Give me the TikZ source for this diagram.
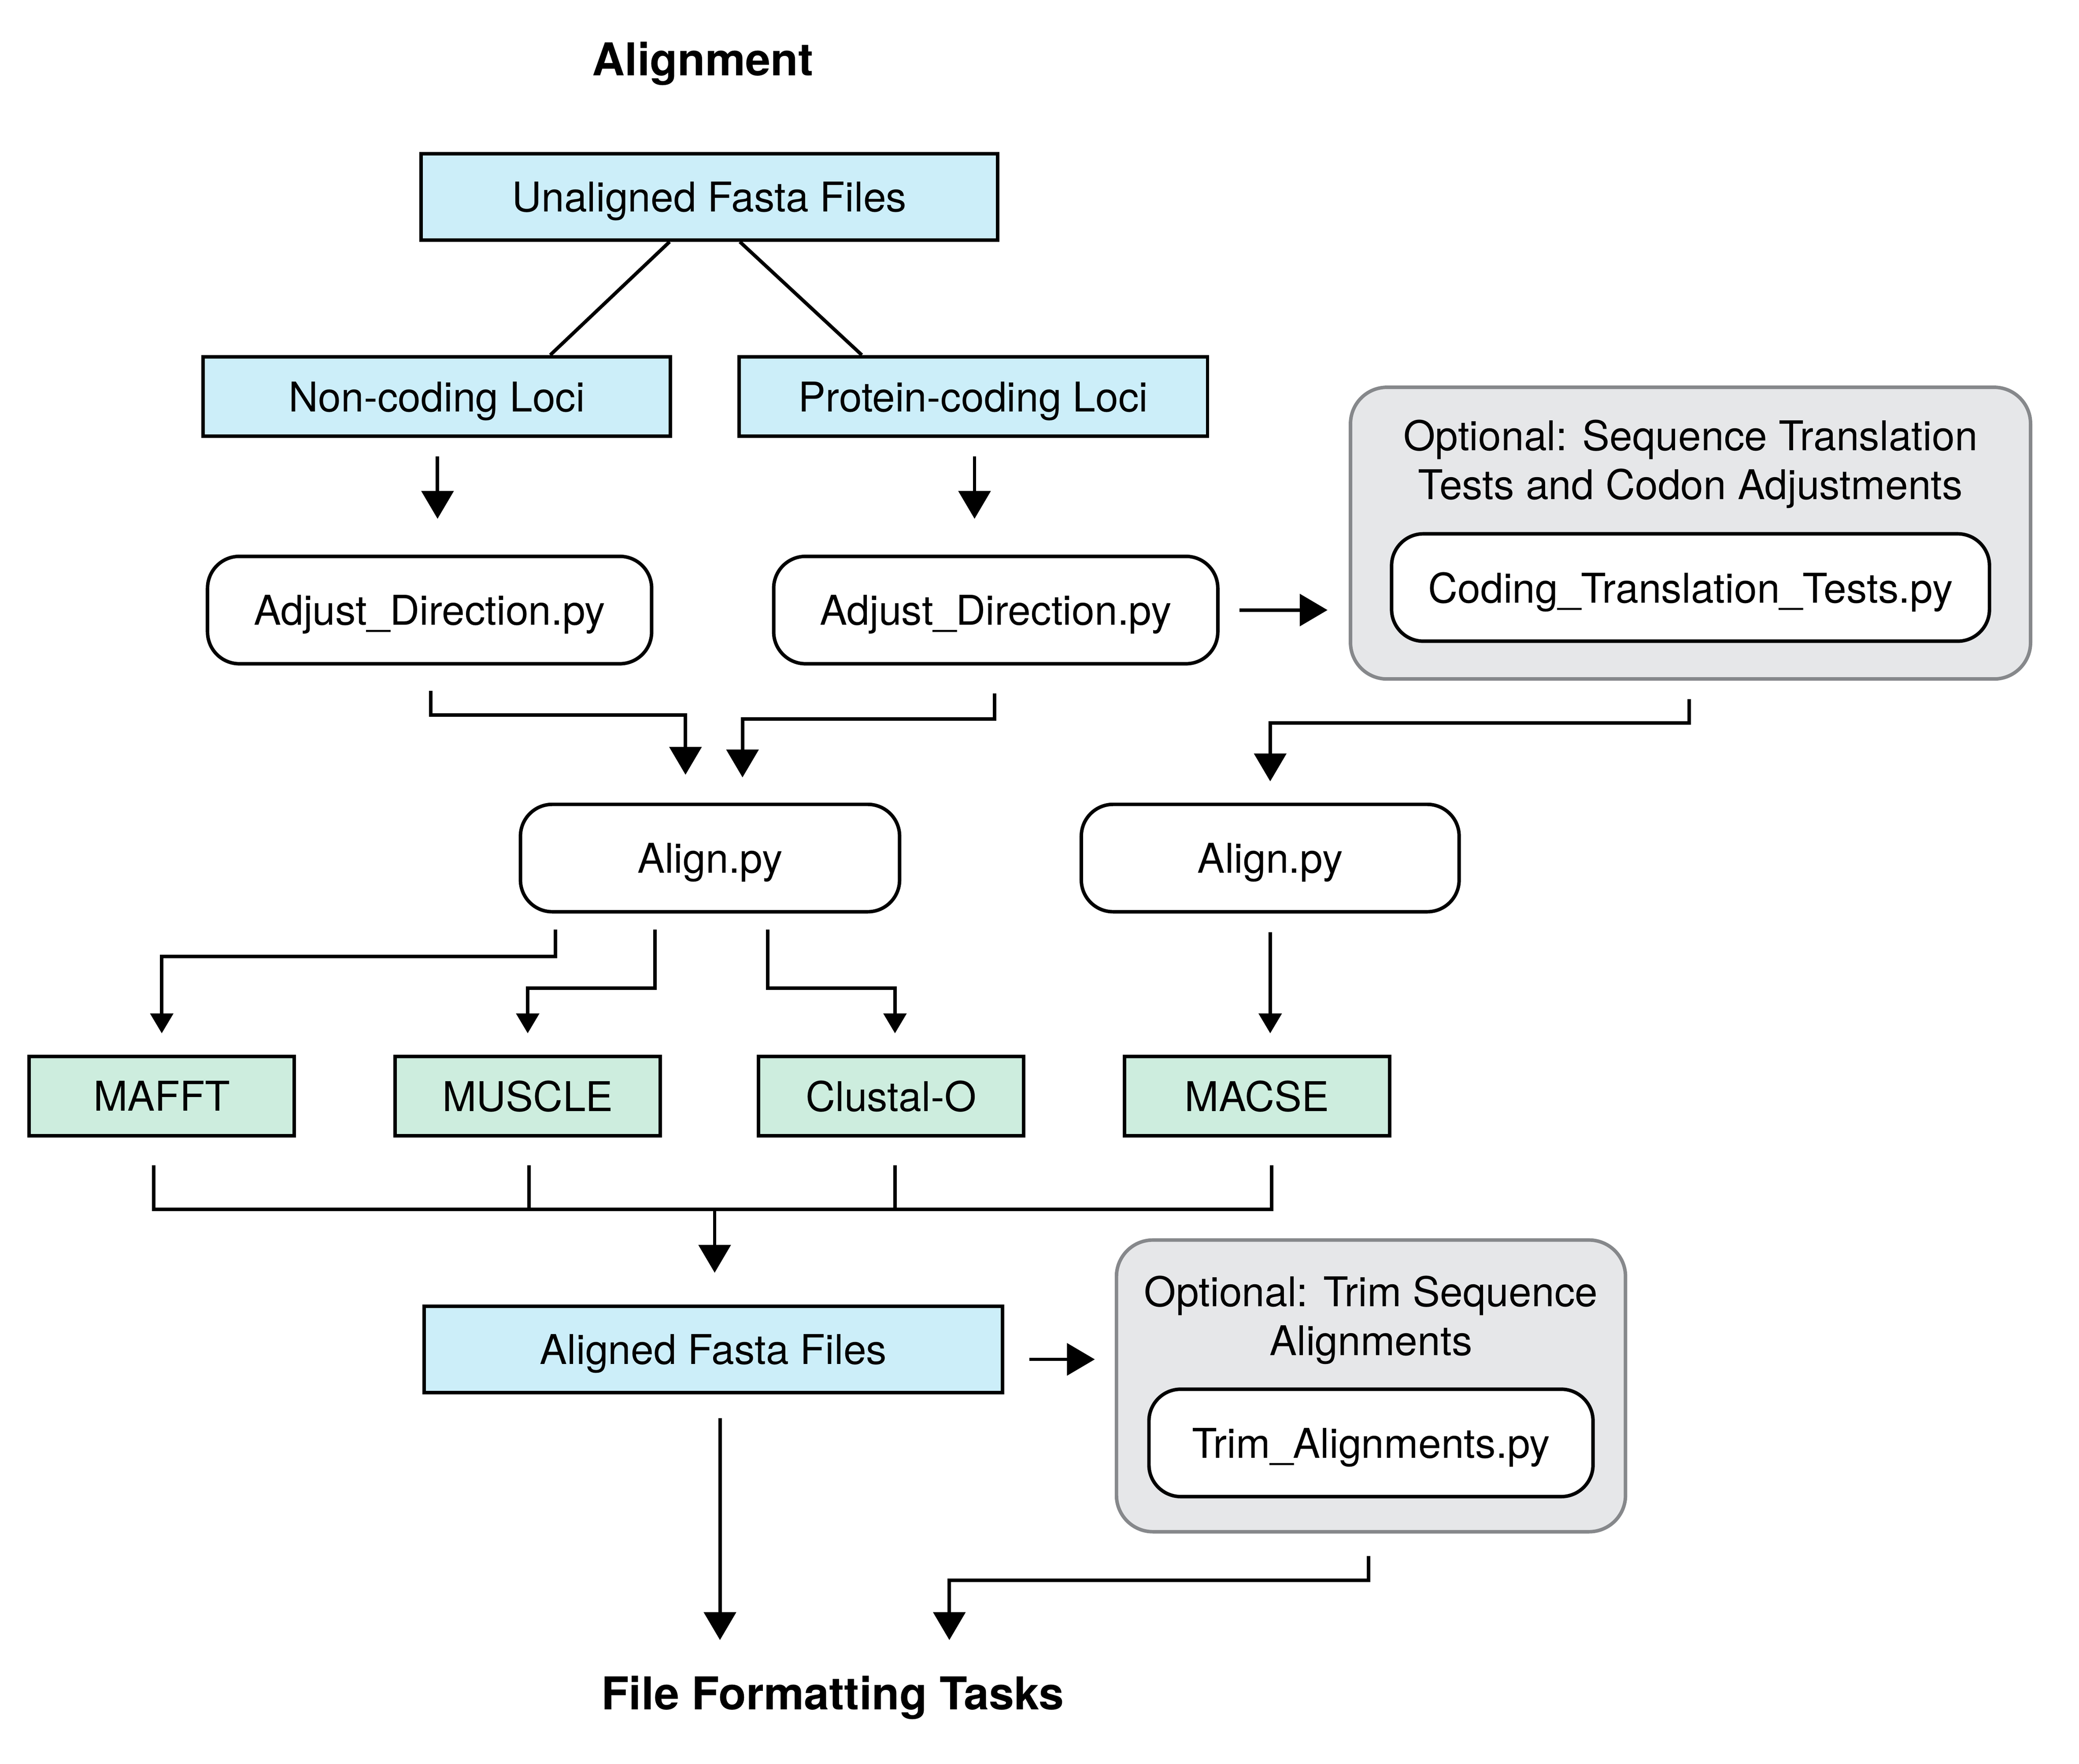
\documentclass[tikz,border=0pt]{standalone}
\usepackage{fontspec}
\setmainfont{TeX Gyre Heros}
\usepackage{tikz}
\usetikzlibrary{arrows.meta,shapes,positioning,calc}

\definecolor{fileblue}{HTML}{CCEEF9}
\definecolor{toolgreen}{HTML}{CDEDDE}
\definecolor{optfill}{HTML}{E6E7E9}
\definecolor{optline}{HTML}{86888B}

\tikzset{
  every node/.style={font=\fontsize{17.6pt}{21pt}\selectfont},
  filebox/.style={draw,line width=1.5pt,fill=fileblue,text depth=0pt,minimum height=1.3cm},
  toolbox/.style={draw,line width=1.5pt,fill=toolgreen,text depth=0pt,minimum width=4cm,minimum height=1.2cm},
  scriptbox/.style={draw,line width=1.5pt,fill=white,text depth=0pt,rounded corners=0.48cm,minimum height=1.62cm},
  optbox/.style={draw=optline,line width=1.5pt,fill=optfill,rounded corners=0.55cm,minimum height=4.4cm},
  heading/.style={font=\fontsize{19.4pt}{23pt}\selectfont\bfseries},
  conn/.style={line width=1.5pt},
  bigtip/.style={conn,-{Triangle[length=0.42cm,width=0.48cm]}},
  smalltip/.style={conn,-{Triangle[length=0.3cm,width=0.34cm]}}
}

\begin{document}
\begin{tikzpicture}[x=0.02cm,y=-0.02cm]

      \useasboundingbox (0,0) rectangle (1568,1330);

      % input files
      \node[heading] (title) at (530,48) {Alignment};
      \node[filebox,minimum width=8.7cm] (unal) at (535,148.5) {Unaligned Fasta Files};
      \node[filebox,minimum width=7.05cm,minimum height=1.2cm] (noncod) at (329.5,299) {Non-coding Loci};
      \node[filebox,minimum width=7.07cm,minimum height=1.2cm] (protcod) at (734,299) {Protein-coding Loci};
      \draw[conn] ($(unal.south)+(-30,0)$) -- ($(noncod.north)+(85.5,0)$);
      \draw[conn] ($(unal.south)+(23,0)$) -- ($(protcod.north)+(-84,0)$);

      % direction
      \node[scriptbox,minimum width=6.7cm] (adjL) at (324,460) {Adjust\_Direction.py};
      \node[scriptbox,minimum width=6.7cm] (adjR) at (751,460) {Adjust\_Direction.py};
      \draw[bigtip,shorten <=0.28cm,shorten >=0.54cm] ($(noncod.south)+(0.5,0)$) -- ($(noncod.south |- adjL.north)+(0.5,0)$);
      \draw[bigtip,shorten <=0.28cm,shorten >=0.54cm] ($(protcod.south)+(1,0)$) -- ($(protcod.south |- adjR.north)+(1,0)$);

      % optional translation tests
      \node[optbox,minimum width=10.26cm] (optA) at (1275,402) {};
      \node[align=center] (optAtext) at (1275,350) {Optional: Sequence Translation\\Tests and Codon Adjustments};
      \node[scriptbox,minimum width=9.02cm] (codtest) at (1275,443) {Coding\_Translation\_Tests.py};
      \draw[bigtip,shorten <=0.3cm,shorten >=0.32cm] (adjR.east) -- (adjR.east -| optA.west);

      % align scripts
      \node[scriptbox,minimum width=5.72cm] (alignL) at (535.5,647) {Align.py};
      \node[scriptbox,minimum width=5.7cm] (alignR) at (958,647) {Align.py};
      \draw[bigtip,shorten >=0.42cm] ($(adjL.south)+(1,19)$) |- ($(alignL.north)+(-18.5,-66)$) -- ($(alignL.north)+(-18.5,0)$);
      \draw[bigtip,shorten >=0.38cm] ($(adjR.south)+(-1,21)$) |- ($(alignL.north)+(24.5,-63)$) -- ($(alignL.north)+(24.5,0)$);
      \draw[bigtip,shorten >=0.32cm] ($(optA.south)+(-1,14)$) |- ($(alignR.north)+(0,-60)$) -- (alignR.north);

      % aligners
      \node[toolbox] (mafft) at (122,826.5) {MAFFT};
      \node[toolbox] (muscle) at (398,826.5) {MUSCLE};
      \node[toolbox] (clustal) at (672,826.5) {Clustal-O};
      \node[toolbox] (macse) at (948,826.5) {MACSE};
      \draw[smalltip,shorten >=0.32cm] ($(alignL.south)+(-116.5,12)$) |- ($(mafft.north)+(0,-74)$) -- (mafft.north);
      \draw[smalltip,shorten >=0.32cm] ($(alignL.south)+(-41.5,12)$) |- ($(muscle.north)+(0,-50)$) -- (muscle.north);
      \draw[smalltip,shorten >=0.32cm] ($(alignL.south)+(43.5,12)$) |- ($(clustal.north)+(3,-50)$) -- ($(clustal.north)+(3,0)$);
      \draw[smalltip,shorten <=0.28cm,shorten >=0.32cm] (alignR.south) -- (alignR.south |- macse.north);

      % aligned output
      \node[filebox,minimum width=8.72cm] (aligned) at (538,1017.5) {Aligned Fasta Files};
      \draw[conn] ($(mafft.south)+(-6,21)$) |- ($(macse.south)+(11,54)$) -- ($(macse.south)+(11,21)$);
      \draw[conn] ($(muscle.south)+(1,21)$) -- ++(0,33);
      \draw[conn] ($(clustal.south)+(3,21)$) -- ++(0,33);
      \draw[bigtip,shorten >=0.48cm] ($(aligned.north)+(1,-73)$) -- ($(aligned.north)+(1,0)$);

      % optional trimming
      \node[optbox,minimum width=7.68cm] (optB) at (1034,1045) {};
      \node[align=center] (optBtext) at (1034,995.5) {Optional: Trim Sequence\\Alignments};
      \node[scriptbox,minimum width=6.7cm] (trim) at (1034,1088) {Trim\_Alignments.py};
      \draw[bigtip,shorten <=0.38cm,shorten >=0.3cm] ($(aligned.east)+(0,7.5)$) -- ($(aligned.east -| optB.west)+(0,7.5)$);

      % next step
      \node[heading,anchor=base,inner sep=0pt,text height=0.5cm] (fft) at (628,1289) {File Formatting Tasks};
      \draw[bigtip,shorten <=0.36cm,shorten >=0.54cm] ($(aligned.south)+(5,0)$) -- ($(fft.north)+(-85,0)$);
      \draw[bigtip,shorten >=0.54cm] ($(optB.south)+(-2,17)$) |- ($(fft.north)+(88,-72)$) -- ($(fft.north)+(88,0)$);

\end{tikzpicture}
\end{document}
